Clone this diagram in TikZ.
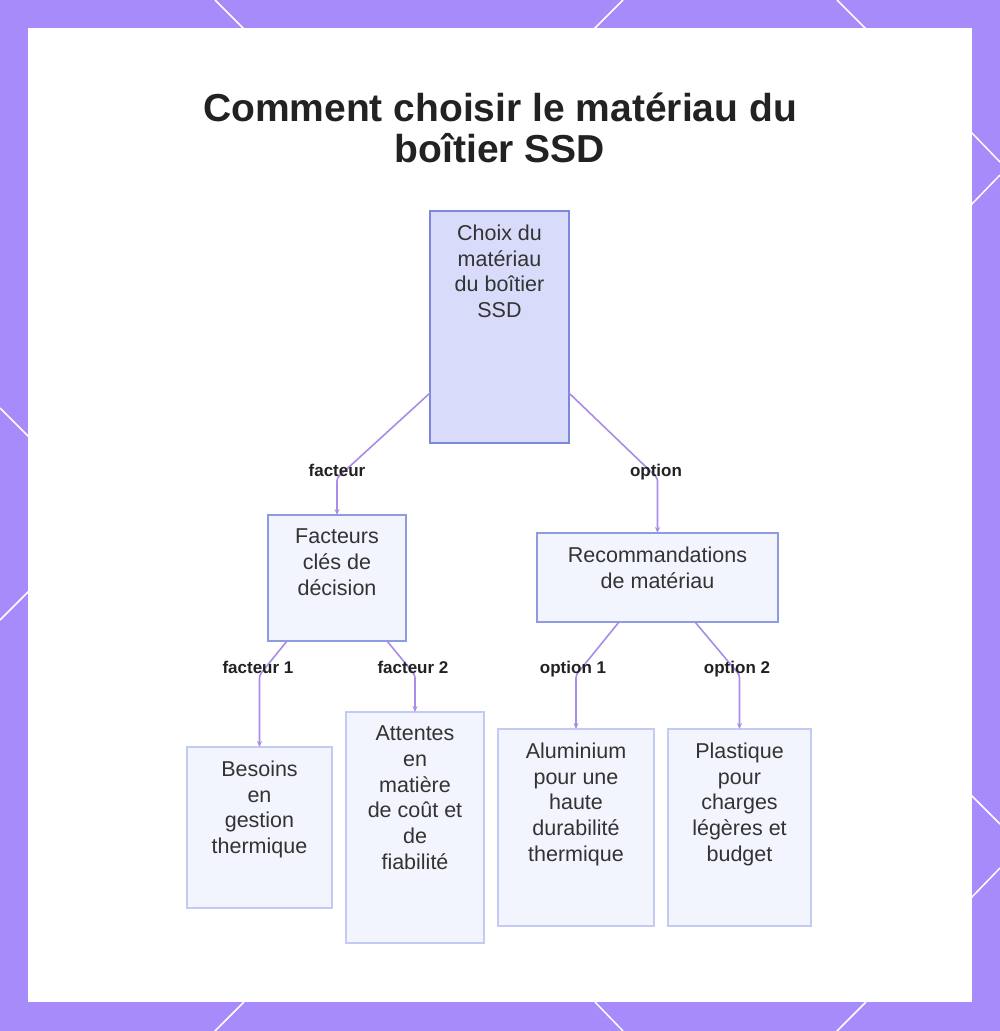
\documentclass[tikz,border=0pt]{standalone}
\usepackage{fontspec}
\setmainfont{Liberation Sans}
\usetikzlibrary{calc,arrows.meta}
\definecolor{frame}{HTML}{A78BFA}
\definecolor{rootfill}{HTML}{D8DCFA}
\definecolor{rootdraw}{HTML}{7E88DA}
\definecolor{midfill}{HTML}{F3F5FE}
\definecolor{middraw}{HTML}{8E9AE2}
\definecolor{leafdraw}{HTML}{C3CAF3}
\definecolor{conn}{HTML}{A98CE8}
\definecolor{txt}{HTML}{333333}
\definecolor{ink}{HTML}{222222}
\newcommand{\boxtxt}[3]{\parbox[t][#2pt][t]{#1pt}{\centering\vspace*{14pt}#3\par}}
\begin{document}
\begin{tikzpicture}[x=1pt,y=-1pt,
  boxbase/.style={inner sep=0pt, outer sep=0pt, anchor=north west, line width=1.3pt, text=txt, font=\fontsize{21.5}{25.7}\selectfont},
  rootbox/.style={boxbase, draw=rootdraw, fill=rootfill},
  midbox/.style={boxbase, draw=middraw, fill=midfill},
  leafbox/.style={boxbase, draw=leafdraw, fill=midfill},
  link/.style={draw=conn, line width=1.6pt, rounded corners=3pt, -{Stealth[length=6pt,width=5pt]}},
  lab/.style={font=\fontsize{17}{20}\selectfont\bfseries, text=ink, anchor=base, inner sep=0pt},
  ttl/.style={font=\fontsize{39}{44}\selectfont\bfseries, text=ink, anchor=base, inner sep=0pt}]
\useasboundingbox (0,0) rectangle (1000,1031);
% frame
\fill[frame] (0,0) rectangle (1000,1031);
\draw[white, line width=1.5pt]
  (215,0)--(245,30) (623,0)--(593,30) (837,0)--(867,30)
  (244,1002)--(215,1031) (595,1002)--(623,1031) (866,1002)--(837,1031)
  (970,131)--(1000,162) (970,206)--(1000,175) (970,794)--(1000,824) (970,899)--(1000,868)
  (0,408)--(30,438) (30,590)--(0,620);
\fill[white] (28,28) rectangle (972,1002);
% title
\node[ttl] (t1) at (500,121) {Comment choisir le matériau du};
\node[ttl] (t2) at (500,162) {boîtier SSD};
% boxes
\node[rootbox] (root) at (430,211) {\boxtxt{139}{232}{Choix du\\matériau\\du boîtier\\SSD}};
\node[midbox] (fac) at (268,515) {\boxtxt{138}{126}{Facteurs\\clés de\\décision}};
\node[midbox] (rec) at (537,533) {\boxtxt{241}{89}{Recommandations\\de matériau}};
\node[leafbox] (bes) at (187,747) {\boxtxt{145}{161}{Besoins\\en\\gestion\\thermique}};
\node[leafbox] (att) at (346,712) {\boxtxt{138}{231}{Attentes\\en\\matière\\de coût et\\de\\fiabilité}};
\node[leafbox] (alu) at (498,729) {\boxtxt{156}{197}{Aluminium\\pour une\\haute\\durabilité\\thermique}};
\node[leafbox] (pla) at (668,729) {\boxtxt{143}{197}{Plastique\\pour\\charges\\légères et\\budget}};
% connectors
\draw[link] ($(root.south west)+(0,-50)$) -- (fac.north |- 0,478) -- (fac.north);
\draw[link] ($(root.south east)+(0,-50)$) -- (rec.north |- 0,478) -- (rec.north);
\draw[link] ($(fac.south west)+(19,0)$) -- (bes.north |- 0,675) -- (bes.north);
\draw[link] ($(fac.south east)+(-19,0)$) -- (att.north |- 0,675) -- (att.north);
\draw[link] ($(rec.south west)+(82,0)$) -- (alu.north |- 0,675) -- (alu.north);
\draw[link] ($(rec.south east)+(-83,0)$) -- (pla.north |- 0,675) -- (pla.north);
% labels
\node[lab] (lf) at (337,476) {facteur};
\node[lab] (lo) at (656,476) {option};
\node[lab] (lf1) at (258,673) {facteur 1};
\node[lab] (lf2) at (413,673) {facteur 2};
\node[lab] (lo1) at (573,673) {option 1};
\node[lab] (lo2) at (737,673) {option 2};
\end{tikzpicture}
\end{document}
